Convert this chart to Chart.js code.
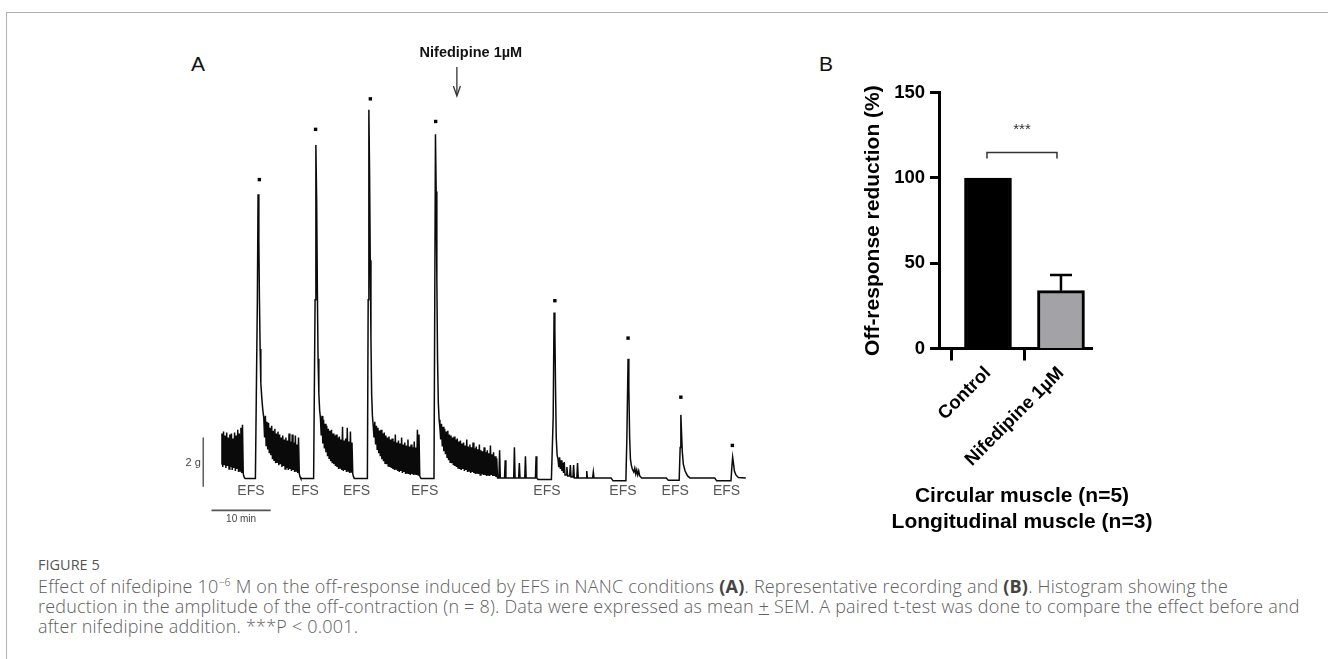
<!DOCTYPE html>
<html><head><meta charset="utf-8">
<script src="https://cdn.jsdelivr.net/npm/chart.js@4.4.1/dist/chart.umd.min.js"></script>
<style>
html,body{margin:0;padding:0;background:#fff;}
body{width:1328px;height:659px;overflow:hidden;position:relative;font-family:"Liberation Sans",Arial,sans-serif;}
#frame{position:absolute;left:6px;top:12px;width:1330px;height:660px;border-top:1px solid #b0b0b0;border-left:1px solid #b0b0b0;}
.abs{position:absolute;white-space:nowrap;line-height:1;}
canvas{position:absolute;}
#cA{left:170px;top:20px;}
#cB{left:800px;top:60px;}
.panel{font-size:21px;color:#111;transform:translate(-50%,-50%);}
.grp{font-weight:bold;font-size:21px;color:#000;transform:translate(-50%,-50%);}
.cap{position:absolute;left:38px;white-space:nowrap;font-family:"Open Sans",sans-serif;font-weight:300;font-size:18px;letter-spacing:0.2px;color:#606060;line-height:1;transform:translateY(-50%);}
.cap b{font-weight:bold;color:#444;}
.cap sup{font-size:10.5px;vertical-align:7px;}
</style></head>
<body>
<div id="frame"></div>
<div class="abs panel" style="left:198px;top:63px;">A</div>
<div class="abs panel" style="left:826px;top:63px;">B</div>
<canvas id="cA" width="600" height="520"></canvas>
<canvas id="cB" width="320" height="440"></canvas>
<div class="abs grp" style="left:1022px;top:494px;">Circular muscle (n=5)</div>
<div class="abs grp" style="left:1022px;top:520px;">Longitudinal muscle (n=3)</div>
<div class="cap" style="top:565px;font-size:14.5px;font-weight:400;letter-spacing:0;color:#555;">FIGURE 5</div>
<div class="cap" style="top:586px;">Effect of nifedipine 10<sup>−6</sup> M on the off-response induced by EFS in NANC conditions <b>(A)</b>. Representative recording and <b>(B)</b>. Histogram showing the</div>
<div class="cap" style="top:606px;">reduction in the amplitude of the off-contraction (n = 8). Data were expressed as mean <u>+</u> SEM. A paired t-test was done to compare the effect before and</div>
<div class="cap" style="top:626px;">after nifedipine addition. ***P &lt; 0.001.</div>
<script>
// ---------- Panel A : representative recording (time in s, force in g) ----------
const traceTime = [
20,26,34,42,50,58,66,74,82,90,98,106,114,122,130,138,146,154,162,170,178,186,194,202,210,218,226,234,242,250,260,365,
370,385,392,400,406,413,420,430,440,450,458,466,474,482,490,498,506,514,522,530,538,546,554,562,570,578,586,594,602,610,618,626,634,642,650,658,666,674,682,690,698,706,714,722,730,738,746,754,762,770,778,786,794,802,810,818,825,955,
970,978,986,993,1000,1008,1016,1024,1032,1040,1048,1056,1064,1072,1080,1088,1096,1104,1112,1120,1128,1136,1144,1152,1160,1168,1176,1184,1192,1200,1208,1216,1224,1232,1240,1248,1256,1264,1272,1280,1288,1296,1304,1312,1320,1328,1336,1344,1352,1360,1367,1500,
1508,1515,1522,1529,1536,1543,1551,1559,1567,1575,1583,1591,1599,1607,1615,1623,1631,1639,1647,1655,1663,1671,1679,1687,1695,1703,1711,1719,1727,1735,1743,1751,1759,1767,1775,1783,1791,1799,1807,1815,1823,1831,1839,1847,1855,1863,1871,1879,1887,1895,1903,1911,1919,1927,1935,1943,1951,1959,1967,1975,1983,1991,1999,2007,2015,2023,2031,2039,2045,2175,
2183,2190,2197,2204,2211,2219,2227,2235,2243,2251,2259,2267,2275,2283,2291,2299,2307,2315,2323,2331,2339,2347,2355,2363,2371,2379,2387,2395,2403,2411,2419,2427,2435,2443,2451,2459,2467,2475,2483,2491,2499,2507,2515,2523,2531,2539,2547,2555,2563,2571,2579,2587,2595,2603,2611,2619,2627,2635,2643,2651,2659,2667,2675,2683,2691,2699,2707,2715,2723,2731,2739,2747,2755,2763,2771,2779,2787,2795,2803,2811,2819,
2833,2840,2847,2890,2897,2904,2983,2990,2997,3033,3040,3047,3095,3102,3109,3203,3210,3217,3230,3365,
3383,3392,3400,3407,3414,3423,3432,3440,3448,3456,3464,3472,3480,3488,3495,3503,3515,3522,3530,3550,3557,3564,3583,3590,3597,3623,3630,3637,3716,3723,3730,3783,3790,3797,3970,3990,4120,
4130,4142,4150,4158,4166,4175,4185,4200,4210,4220,4230,4240,4250,4260,4280,4530,4550,4660,
4670,4677,4684,4692,4702,4720,4745,4770,5020,5040,5185,
5194,5202,5210,5220,5235,5260,5335];
const traceForce = [
0.64,1.88,0.52,1.96,0.60,1.80,0.48,1.92,0.56,1.72,0.44,1.84,0.52,1.88,0.40,1.68,0.48,1.92,0.36,1.80,0.44,2.04,0.32,1.88,0.36,2.12,0.28,2.24,0.24,0.12,0.06,0.06,
0.06,7.32,11.6,9.72,7.32,5.32,3.92,3.32,2.84,2.52,1.72,2.60,1.40,2.36,1.24,2.32,1.08,2.12,1.00,2.20,0.84,2.00,0.80,2.08,0.68,1.88,0.72,1.96,0.60,1.84,0.64,1.72,0.52,1.80,0.56,1.64,0.44,1.72,0.48,1.60,0.40,1.88,0.44,1.56,0.36,1.84,0.40,1.52,0.32,1.80,0.36,1.44,0.28,1.72,0.24,0.12,0.06,0.06,
7.32,13.6,11.32,7.72,4.92,3.52,2.84,2.52,1.80,2.60,1.48,2.44,1.28,2.28,1.12,2.20,0.96,2.08,0.88,2.00,0.76,2.04,0.68,1.88,0.64,1.80,0.56,1.84,0.52,1.72,0.44,1.76,0.48,1.64,0.40,2.16,0.36,1.60,0.40,1.68,0.32,2.12,0.36,1.56,0.28,1.96,0.32,1.52,0.24,0.12,0.06,0.06,
7.32,15.04,12.52,8.92,5.72,3.52,2.60,2.20,1.72,2.36,1.44,2.20,1.24,2.12,1.08,2.00,0.96,2.04,0.84,1.88,0.76,1.92,0.68,1.80,0.64,1.72,0.56,1.76,0.52,1.64,0.48,1.68,0.44,1.56,0.40,1.84,0.44,1.52,0.36,1.60,0.32,1.48,0.36,1.72,0.28,1.44,0.32,1.52,0.24,1.40,0.28,1.64,0.24,1.36,0.20,1.44,0.24,1.32,0.20,1.56,0.24,1.32,0.20,2.04,0.20,1.84,0.16,0.08,0.06,0.06,
7.32,14.04,11.72,8.12,4.92,3.12,2.44,2.12,1.64,2.28,1.36,2.16,1.16,2.08,1.04,1.96,0.92,2.00,0.80,1.84,0.72,1.80,0.68,1.72,0.60,1.76,0.56,1.64,0.52,1.68,0.48,1.56,0.44,1.60,0.40,1.48,0.44,1.52,0.36,1.40,0.40,1.64,0.32,1.36,0.36,1.44,0.28,1.32,0.32,1.52,0.28,1.28,0.24,1.36,0.28,1.24,0.24,1.44,0.20,1.20,0.24,1.16,0.20,1.32,0.20,1.12,0.16,1.20,0.20,1.08,0.16,1.40,0.20,1.04,0.16,1.12,0.16,0.96,0.12,0.88,0.08,
0.08,1.20,0.08,0.08,0.80,0.08,0.08,1.32,0.08,0.08,0.68,0.08,0.08,0.96,0.08,0.08,0.96,0.08,0.02,0.02,
2.52,6.80,6.12,3.72,1.72,1.00,0.84,0.52,0.92,0.44,0.80,0.36,0.68,0.28,0.72,0.20,0.20,0.52,0.16,0.16,0.60,0.12,0.12,0.60,0.08,0.08,0.68,0.08,0.08,0.36,0.08,0.08,0.32,0.08,0.08,-0.04,-0.04,
1.72,4.92,3.72,1.72,0.84,0.60,0.44,0.32,0.48,0.24,0.40,0.20,0.36,0.16,0.08,0.08,-0.02,-0.02,
1.32,2.64,1.92,1.12,0.64,0.36,0.16,0.08,0.08,-0.04,-0.04,
0.52,0.92,0.68,0.36,0.20,0.10,0.08];
const offResponseTime  = [405, 975, 1530, 2192, 3400, 4142, 4677, 5199];
const offResponseMark  = [12.2, 14.24, 15.48, 14.56, 7.28, 5.76, 3.36, 1.40];
const efsTimes = [320, 870, 1390, 2080, 3320, 4090, 4620, 5140];
const efsLabel = 'EFS';
const drugTime = 2407;
const drugLabel = 'Nifedipine 1µM';
const forceBar = { time: -164, from: -0.28, to: 1.72, label: '2 g' };
const timeBar  = { level: -1.24, from: -80, to: 520, label: '10 min' };

// ---------- Panel B : histogram ----------
const categories = ['Control', 'Nifedipine 1µM'];
const meanReduction = [100, 33.9];
const semReduction = [0, 9.2];
const yTickValues = [0, 50, 100, 150];
const yAxisTitle = 'Off-response reduction (%)';
const sigLabel = '***';
const sigLevel = 115;
const sigLabelLevel = 128.5;

const annotA = {
  id: 'annotA',
  afterDatasetsDraw(chart) {
    const {ctx, scales: {x, y}} = chart;
    const top = chart.canvas.offsetTop;
    ctx.save();
    ctx.fillStyle = '#555';
    ctx.textAlign = 'center';
    ctx.textBaseline = 'middle';
    ctx.font = '14px "Liberation Sans Narrow", "Liberation Sans", sans-serif';
    efsTimes.forEach(t => ctx.fillText(efsLabel, x.getPixelForValue(t), y.getPixelForValue(-0.44)));
    ctx.font = '11px "Liberation Sans", sans-serif';
    ctx.fillStyle = '#444';
    ctx.fillText(forceBar.label, x.getPixelForValue(forceBar.time) - 10, y.getPixelForValue((forceBar.from + forceBar.to) / 2) + 1);
    ctx.font = '10px "Liberation Sans Narrow", "Liberation Sans", sans-serif';
    ctx.fillText(timeBar.label, x.getPixelForValue((timeBar.from + timeBar.to) / 2), y.getPixelForValue(timeBar.level) + 9);
    // drug addition arrow (page y 67 -> 96)
    const ax = x.getPixelForValue(drugTime);
    ctx.strokeStyle = '#333'; ctx.lineWidth = 1.3;
    ctx.beginPath(); ctx.moveTo(ax, 67 - top); ctx.lineTo(ax, 95 - top); ctx.stroke();
    ctx.beginPath(); ctx.moveTo(ax - 3.5, 86 - top); ctx.lineTo(ax, 96 - top); ctx.lineTo(ax + 3.5, 86 - top); ctx.stroke();
    ctx.fillStyle = '#111';
    ctx.font = 'bold 14.5px "Liberation Sans", sans-serif';
    ctx.fillText(drugLabel, ax + 14, 53 - top);
    ctx.restore();
  }
};

new Chart(document.getElementById('cA'), {
  type: 'line',
  data: {
    datasets: [
      { data: traceTime.map((t, i) => ({x: t, y: traceForce[i]})), borderColor: '#0a0a0a', borderWidth: 1.5, pointRadius: 0, tension: 0 },
      { data: offResponseTime.map((t, i) => ({x: t, y: offResponseMark[i]})), showLine: false, pointStyle: 'rect', pointRadius: 2.4, backgroundColor: '#000', borderWidth: 0 },
      { data: [{x: forceBar.time, y: forceBar.from}, {x: forceBar.time, y: forceBar.to}], borderColor: '#444', borderWidth: 1.3, pointRadius: 0 },
      { data: [{x: timeBar.from, y: timeBar.level}, {x: timeBar.to, y: timeBar.level}], borderColor: '#555', borderWidth: 1.6, pointRadius: 0 }
    ]
  },
  options: {
    responsive: false, animation: false, devicePixelRatio: 1,
    layout: { padding: 0 },
    plugins: { legend: { display: false }, tooltip: { enabled: false } },
    scales: {
      x: { type: 'linear', display: false, min: -460, max: 5540 },
      y: { type: 'linear', display: false, min: -2.28, max: 18.52 }
    }
  },
  plugins: [annotA]
});

const annotB = {
  id: 'annotB',
  afterDatasetsDraw(chart) {
    const {ctx, scales: {x, y}} = chart;
    ctx.save();
    ctx.strokeStyle = '#000'; ctx.lineWidth = 2.5;
    semReduction.forEach((s, i) => {
      if (!s) return;
      const px = x.getPixelForValue(i + 1);
      const y0 = y.getPixelForValue(meanReduction[i]);
      const y1 = y.getPixelForValue(meanReduction[i] + s);
      ctx.beginPath();
      ctx.moveTo(px, y0); ctx.lineTo(px, y1);
      ctx.moveTo(px - 11, y1); ctx.lineTo(px + 11, y1);
      ctx.stroke();
    });
    const xa = x.getPixelForValue(1) - 1, xb = x.getPixelForValue(2) - 4, yb = y.getPixelForValue(sigLevel);
    ctx.strokeStyle = '#333'; ctx.lineWidth = 1.5;
    ctx.beginPath(); ctx.moveTo(xa, yb + 6); ctx.lineTo(xa, yb); ctx.lineTo(xb, yb); ctx.lineTo(xb, yb + 6); ctx.stroke();
    ctx.fillStyle = '#333'; ctx.font = '15px "Liberation Sans", sans-serif';
    ctx.textAlign = 'center'; ctx.textBaseline = 'middle';
    ctx.fillText(sigLabel, (xa + xb) / 2, y.getPixelForValue(sigLabelLevel));
    ctx.restore();
  }
};

new Chart(document.getElementById('cB'), {
  type: 'bar',
  data: {
    datasets: [{
      data: meanReduction.map((v, i) => ({x: i + 1, y: v})),
      backgroundColor: ['#000000', '#a3a3a7'],
      borderColor: '#000', borderWidth: 3, barThickness: 47
    }]
  },
  options: {
    responsive: false, animation: false, devicePixelRatio: 1,
    layout: { padding: { left: 61, top: 32.7, right: 28, bottom: 0 } },
    plugins: { legend: { display: false }, tooltip: { enabled: false } },
    scales: {
      x: {
        type: 'linear', min: 0.329, max: 2.425, offset: false,
        afterBuildTicks: s => { s.ticks = categories.map((c, i) => ({value: i + 1})); },
        afterFit: s => { s.height = 151.5; },
        ticks: { callback: v => categories[v - 1], minRotation: 45, maxRotation: 45, autoSkip: false,
                 color: '#000', padding: 2, font: { family: '"Liberation Sans", Arial, sans-serif', size: 18.5, weight: 'bold' } },
        grid: { drawOnChartArea: false, drawTicks: true, tickLength: 12, tickWidth: 3, tickColor: '#000' },
        border: { display: true, width: 3, color: '#000' }
      },
      y: {
        min: 0, max: 150,
        afterBuildTicks: s => { s.ticks = yTickValues.map(v => ({value: v})); },
        afterFit: s => { s.width = 78; },
        ticks: { color: '#000', padding: 5, font: { family: '"Liberation Sans", Arial, sans-serif', size: 18.5, weight: 'bold' } },
        grid: { drawOnChartArea: false, drawTicks: true, tickLength: 9, tickWidth: 3, tickColor: '#000' },
        border: { display: true, width: 3, color: '#000' },
        title: { display: true, text: yAxisTitle, color: '#000', padding: 0,
                 font: { family: '"Liberation Sans", Arial, sans-serif', size: 21, weight: 'bold' } }
      }
    }
  },
  plugins: [annotB]
});
</script>
</body></html>
